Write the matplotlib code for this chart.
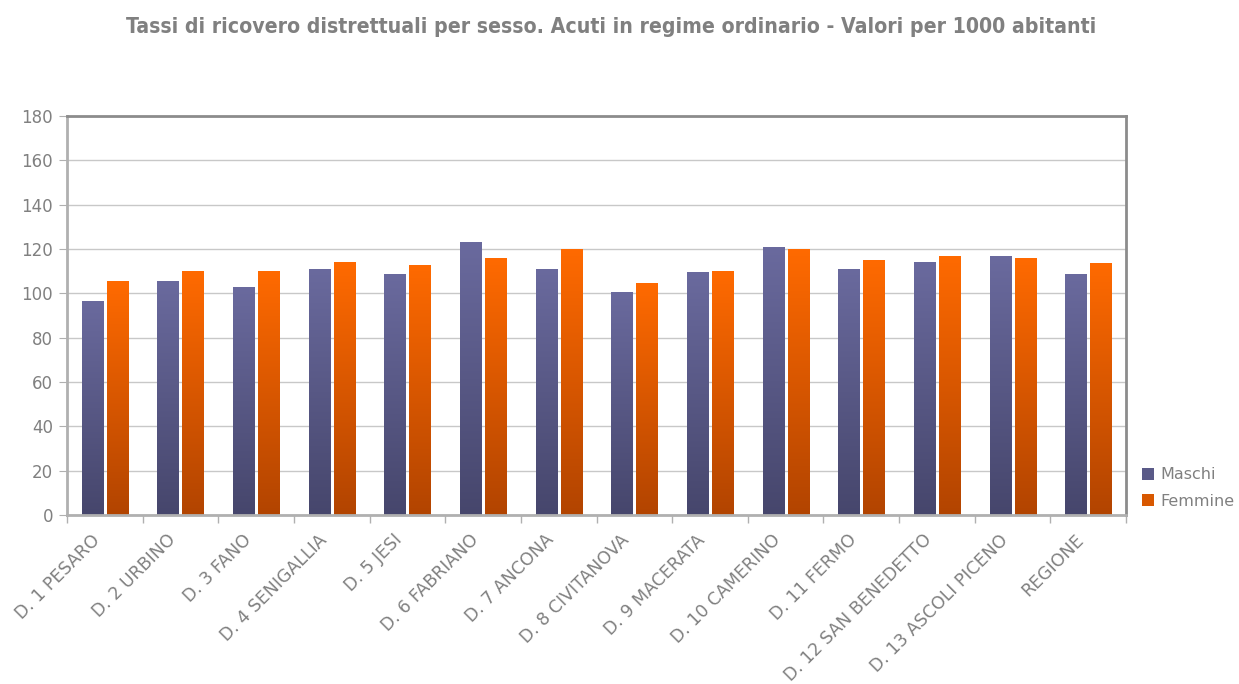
import numpy as np
import matplotlib
matplotlib.use("Agg")
import matplotlib.pyplot as plt
from matplotlib.colors import LinearSegmentedColormap
from matplotlib.patches import Rectangle
from matplotlib.transforms import ScaledTranslation, blended_transform_factory

categories = ["D. 1 PESARO", "D. 2 URBINO", "D. 3 FANO", "D. 4 SENIGALLIA", "D. 5 JESI",
              "D. 6 FABRIANO", "D. 7 ANCONA", "D. 8 CIVITANOVA", "D. 9 MACERATA",
              "D. 10 CAMERINO", "D. 11 FERMO", "D. 12 SAN BENEDETTO",
              "D. 13 ASCOLI PICENO", "REGIONE"]
maschi = [96.5, 105.5, 102.8, 111.0, 108.7, 123.1, 111.0, 100.6, 109.6, 120.9, 111.0, 114.1, 116.8, 108.7]
femmine = [105.5, 110.0, 110.0, 114.1, 112.8, 115.9, 120.0, 104.6, 110.0, 120.0, 115.0, 116.8, 115.9, 113.7]
series_names = ["Maschi", "Femmine"]
yticks = list(range(0, 181, 20))

plt.rcParams['font.family'] = ['DejaVu Sans']
fig = plt.figure(figsize=(12.39, 6.84), dpi=100)
ax = fig.add_axes([67/1239, 1-515/684, (1126-67)/1239, (515-116)/684])

gray = "#808080"
cmap_m = LinearSegmentedColormap.from_list("m", ["#46466C", "#6A6A9E"])
cmap_f = LinearSegmentedColormap.from_list("f", ["#B24400", "#FF6A00"])

x = np.arange(len(categories))
w = 0.278
off = 0.165
grad = np.linspace(0, 1, 256).reshape(-1, 1)

def gbar(xc, h, cmap):
    r = Rectangle((xc - w/2, 0), w, h, facecolor="none", edgecolor="none")
    ax.add_patch(r)
    im = ax.imshow(grad, cmap=cmap, origin="lower", aspect="auto",
                   extent=(xc - w/2, xc + w/2, 0, h), zorder=2)
    im.set_clip_path(r)

for i in range(len(categories)):
    gbar(x[i] - off, maschi[i], cmap_m)
    gbar(x[i] + off, femmine[i], cmap_f)

ax.set_xlim(-0.5, len(categories) - 0.5)
ax.set_ylim(0, 180)
ax.set_yticks(yticks)
ax.yaxis.grid(True, color="#C8C8C8", linewidth=1)
ax.set_axisbelow(True)

ax.set_xticks(np.arange(-0.5, len(categories), 1.0))
ax.set_xticklabels([])
ax.tick_params(axis="x", which="major", length=6, color="#B0B0B0", width=1, direction="out")
ax.tick_params(axis="y", length=6, color="#B0B0B0", labelcolor=gray, labelsize=12, pad=4)

trans = blended_transform_factory(ax.transData, ax.transAxes) + \
    ScaledTranslation(-14/100, -16/100, fig.dpi_scale_trans)
for i, c in enumerate(categories):
    ax.text(x[i], 0, c, transform=trans, rotation=45, ha="right", va="top",
            rotation_mode="anchor", color=gray, fontsize=12.5, clip_on=False)

for s in ["left", "bottom"]:
    ax.spines[s].set_color("#B0B0B0")
    ax.spines[s].set_linewidth(2)
for s in ["top", "right"]:
    ax.spines[s].set_color("#8C8C8C")
    ax.spines[s].set_linewidth(2)

fig.text(611/1239, 1-27/684, "Tassi di ricovero distrettuali per sesso. Acuti in regime ordinario - Valori per 1000 abitanti",
         ha="center", va="center", fontsize=15.2, fontweight="bold", color=gray,
         fontstretch="condensed")

handles = [Rectangle((0, 0), 1, 1, facecolor="#5A5A88"), Rectangle((0, 0), 1, 1, facecolor="#D85800")]
leg = fig.legend(handles, series_names, loc="center left", bbox_to_anchor=(1142/1239, 1-488/684),
                 frameon=False, fontsize=11.5, handlelength=0.75, handleheight=0.75,
                 handletextpad=0.4, labelspacing=0.7, borderpad=0, borderaxespad=0)
for t in leg.get_texts():
    t.set_color(gray)

fig.savefig("out.png", dpi=100)
